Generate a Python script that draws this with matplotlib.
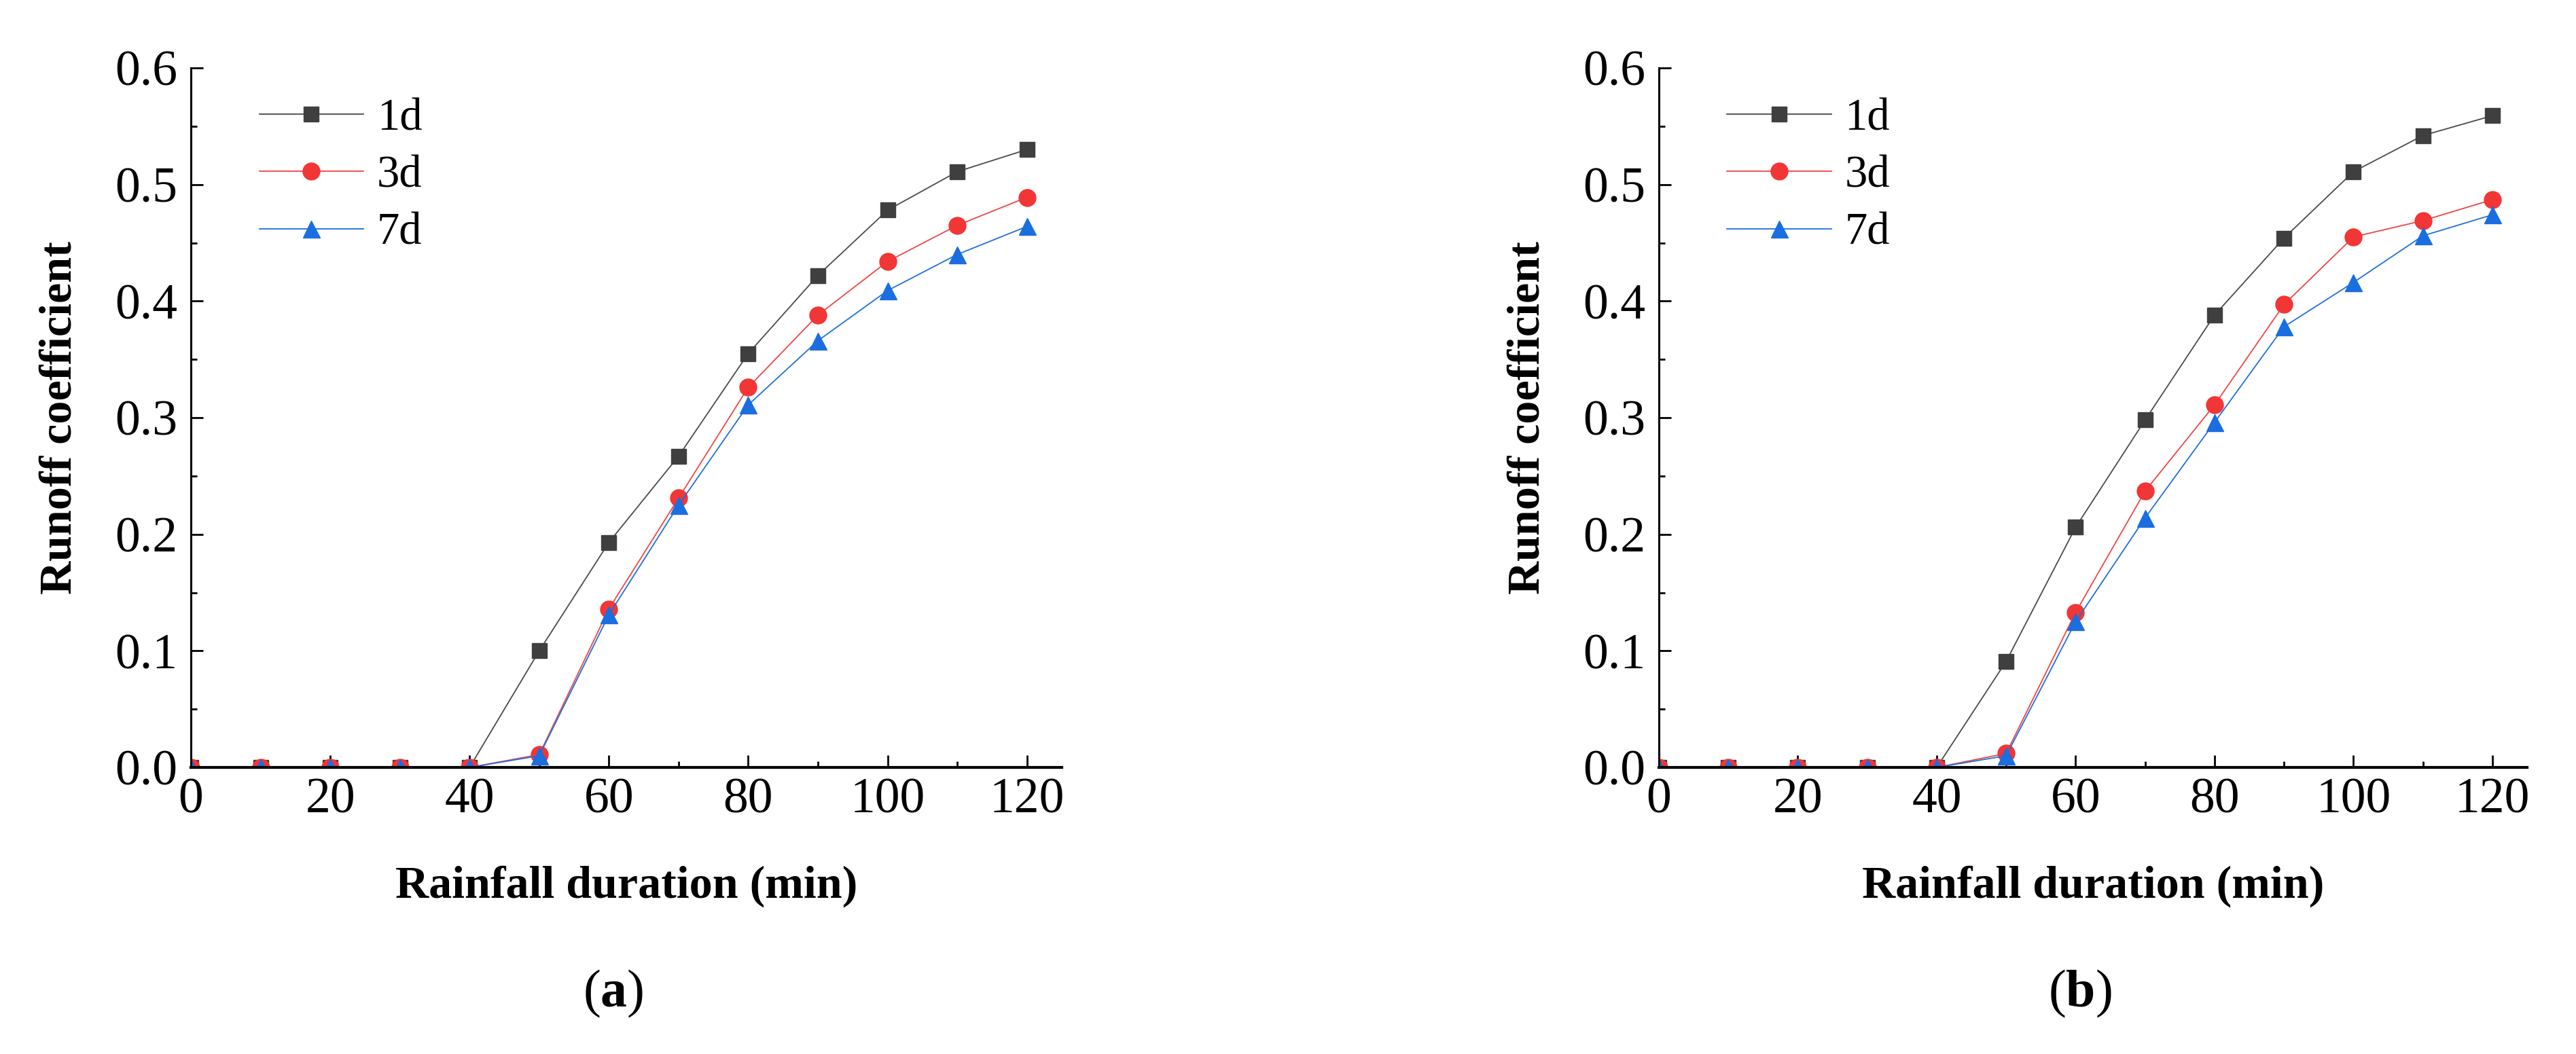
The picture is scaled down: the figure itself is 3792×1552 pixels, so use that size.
import matplotlib
matplotlib.use('Agg')
import matplotlib.pyplot as plt
from matplotlib.ticker import MultipleLocator

plt.rcParams['font.family'] = ['Liberation Serif', 'DejaVu Serif']
plt.rcParams['mathtext.fontset'] = 'custom'
plt.rcParams['mathtext.rm'] = 'Liberation Serif'
plt.rcParams['mathtext.bf'] = 'Liberation Serif:bold'

# Rainfall duration (min)
duration = [0, 10, 20, 30, 40, 50, 60, 70, 80, 90, 100, 110, 120]

# Panel (a) runoff coefficients
a_1d = [0, 0, 0, 0, 0, 0.100, 0.193, 0.267, 0.355, 0.422, 0.478, 0.511, 0.530]
a_3d = [0, 0, 0, 0, 0, 0.011, 0.136, 0.231, 0.326, 0.388, 0.434, 0.465, 0.489]
a_7d = [0, 0, 0, 0, 0, 0.010, 0.131, 0.225, 0.311, 0.366, 0.409, 0.440, 0.464]

# Panel (b) runoff coefficients
b_1d = [0, 0, 0, 0, 0, 0.091, 0.206, 0.298, 0.388, 0.454, 0.511, 0.542, 0.559]
b_3d = [0, 0, 0, 0, 0, 0.012, 0.133, 0.237, 0.311, 0.397, 0.455, 0.469, 0.487]
b_7d = [0, 0, 0, 0, 0, 0.010, 0.125, 0.214, 0.296, 0.378, 0.416, 0.456, 0.474]

labels = ['1d', '3d', '7d']
captions = ['a', 'b']

W, H = 3792, 1552
fig = plt.figure(figsize=(W / 100, H / 100), dpi=100)
fig.patch.set_facecolor('white')

# axes boxes in pixels: left, right
boxes = [(281, 1563), (2442, 3720)]
bottom_px, top_px = 1130, 100

styles = [
    dict(color='#4a4a4a', marker='s', ms=16, mfc='#3f3f3f', mec='#3f3f3f', lw=1.3),
    dict(color='#f04545', marker='o', ms=18, mfc='#f23535', mec='#f23535', lw=1.3),
    dict(color='#1f6fdc', marker='^', ms=18, mfc='#1a6ee0', mec='#1a6ee0', lw=1.3),
]

panels = [(a_1d, a_3d, a_7d), (b_1d, b_3d, b_7d)]

for i, (series, (lpx, rpx)) in enumerate(zip(panels, boxes)):
    ax = fig.add_axes([lpx / W, (H - bottom_px) / H, (rpx - lpx) / W, (bottom_px - top_px) / H])
    for ys, lab, st in zip(series, labels, styles):
        ax.plot(duration, ys, label=lab, **st)

    ax.set_xlim(0, 125)
    ax.set_ylim(0, 0.6)
    ax.xaxis.set_major_locator(MultipleLocator(20))
    ax.xaxis.set_minor_locator(MultipleLocator(10))
    ax.yaxis.set_major_locator(MultipleLocator(0.1))
    ax.yaxis.set_minor_locator(MultipleLocator(0.05))
    ax.yaxis.set_major_formatter(plt.FuncFormatter(lambda v, p: f"{v:.1f}"))

    ax.spines['top'].set_visible(False)
    ax.spines['right'].set_visible(False)
    ax.spines['left'].set_linewidth(2.2)
    ax.spines['bottom'].set_linewidth(3.0)

    ax.tick_params(which='major', direction='in', length=13, width=2.0, labelsize=53)
    ax.tick_params(which='minor', direction='in', length=6.5, width=2.0)
    ax.tick_params(axis='x', which='major', pad=11)
    ax.tick_params(axis='y', which='major', pad=14)

    ax.set_xlabel('Rainfall duration (min)', fontsize=49, fontweight='bold')
    ax.set_ylabel('Runoff coefficient', fontsize=49, fontweight='bold')
    ax.xaxis.set_label_coords(0.5, -0.14)
    ax.yaxis.set_label_coords(-0.127, 0.5)

    leg = ax.legend(loc='upper left', bbox_to_anchor=(0.068, 0.97), frameon=False,
                    fontsize=48, handlelength=2.3, handletextpad=0.3,
                    labelspacing=0.35, borderaxespad=0, borderpad=0.2)

    cx = (lpx + rpx) / 2 / W - 0.005
    fig.text(cx, 0.057, '(' + r'$\mathbf{' + captions[i] + '}$' + ')',
             ha='center', va='center', fontsize=56)

fig.savefig('out.png', dpi=100, facecolor='white')
